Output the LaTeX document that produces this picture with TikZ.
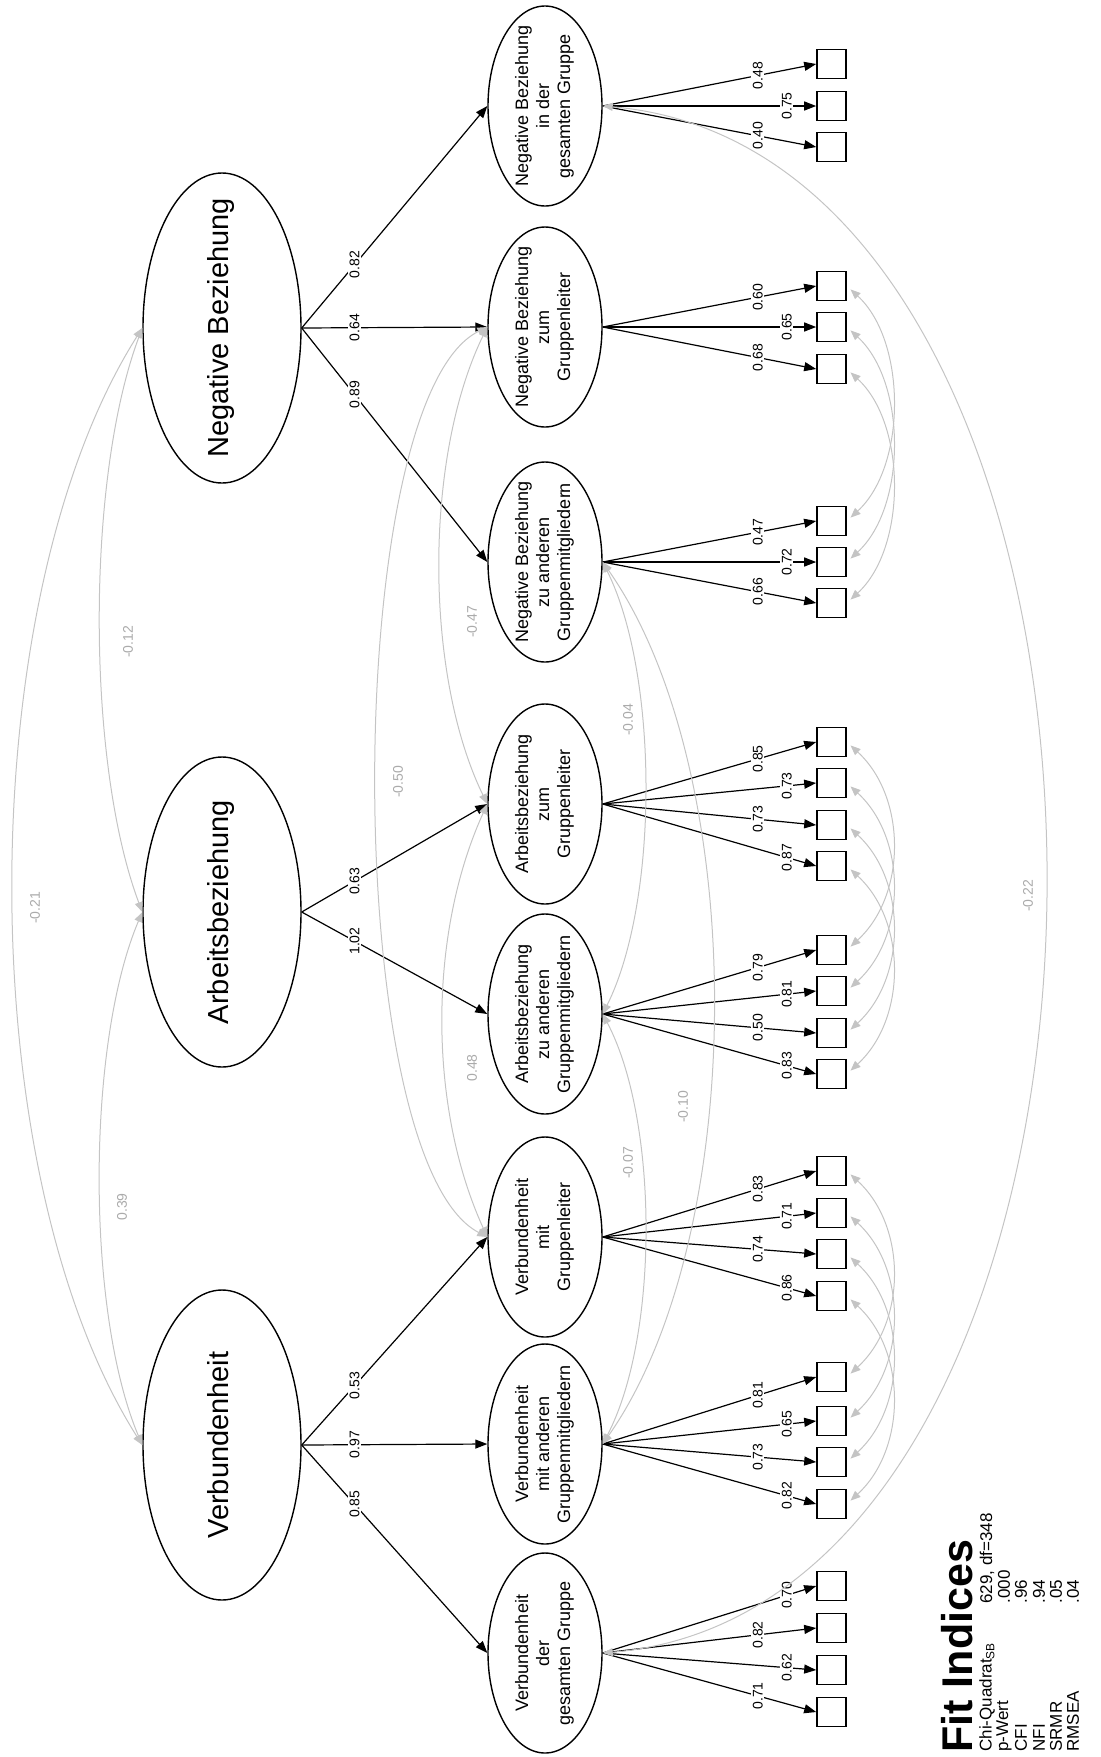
\documentclass[tikz,border=0pt]{standalone}
\usepackage{fontspec}
\setmainfont{Liberation Sans}
\usetikzlibrary{shapes.geometric,arrows.meta}
\definecolor{covgray}{HTML}{C4C4C4}
\definecolor{labgray}{HTML}{ABABAB}
\newcommand{\rtxt}[1]{\makebox[0pt]{\raisebox{-0.5\height}[0pt][0pt]{\rotatebox{90}{\begin{tabular}{@{}c@{}}#1\end{tabular}}}}}
\begin{document}
\begin{tikzpicture}[x=0.5pt,y=-0.5pt,
  lat/.style={draw, ellipse, line width=0.7pt, minimum width=79pt, minimum height=155pt, inner sep=0pt, font=\fontsize{14.5}{16}\selectfont},
  fo/.style={draw, ellipse, line width=0.7pt, minimum width=57pt, minimum height=100pt, inner sep=0pt, font=\fontsize{9}{10.5}\selectfont},
  ind/.style={draw, line width=0.8pt, minimum size=14.5pt, inner sep=0pt},
  arr/.style={-{Triangle[length=6pt,width=4.5pt]}, line width=0.6pt},
  lbl/.style={fill=white, inner sep=0.8pt, rotate=90, font=\fontsize{7}{8}\selectfont},
  cov/.style={{Triangle[length=5pt,width=4pt]}-{Triangle[length=5pt,width=4pt]}, draw=covgray, color=covgray, line width=0.5pt},
  ecov/.style={cov, shorten <=2.5pt, shorten >=2.5pt},
  clbl/.style={text=labgray, fill=white, inner sep=0.5pt, rotate=90, font=\fontsize{7}{8}\selectfont},
  fit/.style={rotate=90, anchor=west, inner sep=0pt, font=\fontsize{8.5}{10}\selectfont},
]
\useasboundingbox (0,0) rectangle (1100,1757);

% latent factors
\node[lat] (N) at (222,328) {\rtxt{Negative Beziehung}};
\node[lat] (A) at (222,912) {\rtxt{Arbeitsbeziehung}};
\node[lat] (V) at (222,1445) {\rtxt{Verbundenheit}};

% first-order factors
\node[fo] (NG) at (545,106) {\rtxt{Negative Beziehung\\in der\\gesamten Gruppe}};
\node[fo] (NL) at (545,327) {\rtxt{Negative Beziehung\\zum\\Gruppenleiter}};
\node[fo] (NA) at (545,562) {\rtxt{Negative Beziehung\\zu anderen\\Gruppenmitgliedern}};
\node[fo] (AL) at (545,804) {\rtxt{Arbeitsbeziehung\\zum\\Gruppenleiter}};
\node[fo] (AG) at (545,1014) {\rtxt{Arbeitsbeziehung\\zu anderen\\Gruppenmitgliedern}};
\node[fo] (VL) at (545,1237) {\rtxt{Verbundenheit\\mit\\Gruppenleiter}};
\node[fo] (VA) at (545,1444) {\rtxt{Verbundenheit\\mit anderen\\Gruppenmitgliedern}};
\node[fo] (VG) at (545,1653) {\rtxt{Verbundenheit\\der\\gesamten Gruppe}};

% indicators
\foreach \n/\y in {ng1/64,ng2/106,ng3/147,nl1/286,nl2/327,nl3/369,na1/521,na2/562,na3/603,
  al1/742,al2/783,al3/825,al4/866,ag1/950,ag2/991,ag3/1033,ag4/1074,
  vl1/1171,vl2/1213,vl3/1254,vl4/1296,va1/1377,va2/1421,va3/1462,va4/1504,
  vg1/1586,vg2/1628,vg3/1670,vg4/1712}
  \node[ind] (\n) at (831.5,\y) {};

% second-order loadings
\draw[arr] (N.east) -- node[lbl,pos=0.285]{0.82} (NG.west);
\draw[arr] (N.east) -- node[lbl,pos=0.285]{0.64} (NL.west);
\draw[arr] (N.east) -- node[lbl,pos=0.285]{0.89} (NA.west);
\draw[arr] (A.east) -- node[lbl,pos=0.285]{0.63} (AL.west);
\draw[arr] (A.east) -- node[lbl,pos=0.285]{1.02} (AG.west);
\draw[arr] (V.east) -- node[lbl,pos=0.285]{0.53} (VL.west);
\draw[arr] (V.east) -- node[lbl,pos=0.285]{0.97} (VA.west);
\draw[arr] (V.east) -- node[lbl,pos=0.285]{0.85} (VG.west);

% first-order loadings
\foreach \f/\n/\v/\p in {NG/ng1/0.48/0.727, NG/ng2/0.75/0.862, NG/ng3/0.40/0.727,
  NL/nl1/0.60/0.727, NL/nl2/0.65/0.862, NL/nl3/0.68/0.727,
  NA/na1/0.47/0.727, NA/na2/0.72/0.862, NA/na3/0.66/0.727,
  AL/al1/0.85/0.727, AL/al2/0.73/0.862, AL/al3/0.73/0.727, AL/al4/0.87/0.862,
  AG/ag1/0.79/0.727, AG/ag2/0.81/0.862, AG/ag3/0.50/0.727, AG/ag4/0.83/0.862,
  VL/vl1/0.83/0.727, VL/vl2/0.71/0.862, VL/vl3/0.74/0.727, VL/vl4/0.86/0.862,
  VA/va1/0.81/0.727, VA/va2/0.65/0.862, VA/va3/0.73/0.727, VA/va4/0.82/0.862,
  VG/vg1/0.70/0.862, VG/vg2/0.82/0.727, VG/vg3/0.62/0.862, VG/vg4/0.71/0.727}
  \draw[arr] (\f.east) -- node[lbl,pos=\p]{\v} (\n.west);

% latent covariances
\draw[cov] (N.west) .. controls (-30,600) and (-30,1173) .. (V.west);
\draw[cov] (N.west) .. controls (86,478) and (86,762) .. (A.west);
\draw[cov] (A.west) .. controls (86,1045) and (86,1312) .. (V.west);
\node[clbl] (c21) at (35,908) {-0.21};
\node[clbl] (c12) at (128,642) {-0.12};
\node[clbl] (c39) at (122,1207) {0.39};

% first-order disturbance covariances
\draw[cov] (NL.west) .. controls (340,400) and (340,1160) .. (VL.west);
\draw[cov] (NL.west) .. controls (424,457) and (424,674) .. (AL.west);
\draw[cov] (AL.west) .. controls (428,934) and (428,1107) .. (VL.west);
\draw[cov] (NA.east) .. controls (659,675) and (659,901) .. (AG.east);
\draw[cov] (NA.east) .. controls (750,772) and (750,1234) .. (VA.east);
\draw[cov] (AG.east) .. controls (659,1121) and (659,1337) .. (VA.east);
\draw[cov] (NG.east) .. controls (1192,156) and (1192,1603) .. (VG.east);
\node[clbl] (c50) at (398,782) {-0.50};
\node[clbl] (c47) at (472,622) {-0.47};
\node[clbl] (c48) at (472,1068) {0.48};
\node[clbl] (c04) at (628,720) {-0.04};
\node[clbl] (c10) at (683,1107) {-0.10};
\node[clbl] (c07) at (628,1163) {-0.07};
\node[clbl] (c22) at (1028,896) {-0.22};

% error covariances
\foreach \a/\b in {nl1/na1,nl2/na2,nl3/na3,al1/ag1,al2/ag2,al3/ag3,al4/ag4,vl1/va1,vl2/va2,vl3/va3,vl4/va4}
  \draw[ecov] (\a.east) .. controls +(60,55) and +(60,-55) .. (\b.east);

% fit indices
\node[fit, font=\bfseries\fontsize{21.5}{24}\selectfont] (fitt) at (957,1753) {Fit Indices};
\node[fit] (f1) at (987,1752) {Chi-Quadrat\textsubscript{SB}};
\node[fit] (f2) at (1004,1752) {p-Wert};
\node[fit] (f3) at (1021,1752) {CFI};
\node[fit] (f4) at (1039,1752) {NFI};
\node[fit] (f5) at (1056,1752) {SRMR};
\node[fit] (f6) at (1073,1752) {RMSEA};
\node[fit] (v1) at (987,1604) {629, df=348};
\node[fit] (v2) at (1004,1604) {.000};
\node[fit] (v3) at (1021,1604) {.96};
\node[fit] (v4) at (1039,1604) {.94};
\node[fit] (v5) at (1056,1604) {.05};
\node[fit] (v6) at (1073,1604) {.04};
\end{tikzpicture}
\end{document}
